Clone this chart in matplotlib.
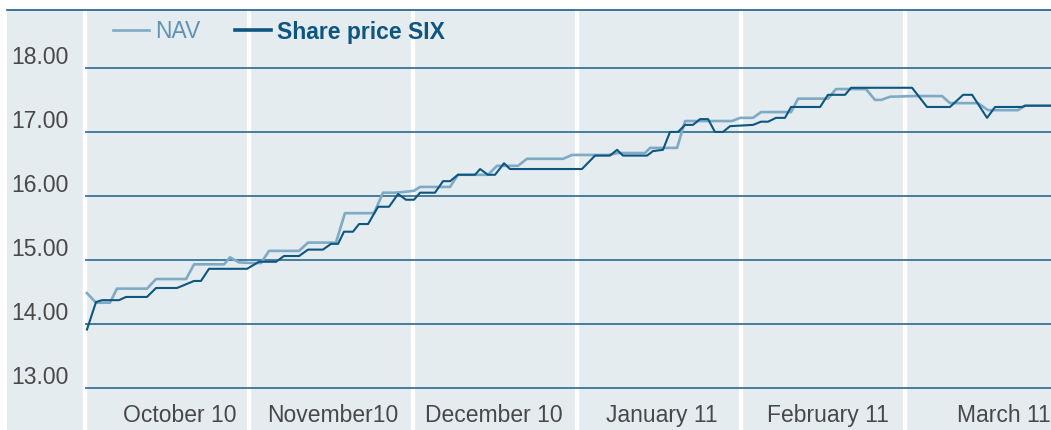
import matplotlib.pyplot as plt
import matplotlib.transforms as mtransforms
from matplotlib.patches import Rectangle
from matplotlib.lines import Line2D

plt.rcParams['font.family'] = ['Liberation Sans', 'DejaVu Sans']

# time in months since 1 Oct 2010 (each month band has equal width on the chart)
price_t = [0.012, 0.067, 0.104, 0.207, 0.250, 0.378, 0.433, 0.561, 0.665, 0.707,
           0.756, 0.988, 1.061, 1.165, 1.213, 1.305, 1.360, 1.451, 1.500, 1.543,
           1.579, 1.634, 1.671, 1.726, 1.787, 1.854, 1.909, 1.957, 2.006, 2.043,
           2.134, 2.183, 2.226, 2.274, 2.378, 2.409, 2.457, 2.500, 2.555, 2.591,
           3.030, 3.110, 3.201, 3.244, 3.280, 3.427, 3.463, 3.524, 3.567, 3.616,
           3.659, 3.707, 3.750, 3.799, 3.841, 3.890, 3.933, 4.073, 4.122, 4.165,
           4.213, 4.268, 4.305, 4.482, 4.530, 4.634, 4.671, 5.043, 5.134, 5.274,
           5.354, 5.409, 5.500, 5.549, 5.713, 5.732, 5.890]
price = [13.91, 14.34, 14.37, 14.37, 14.42, 14.42, 14.56, 14.56, 14.67, 14.67,
         14.86, 14.86, 14.97, 14.97, 15.06, 15.06, 15.16, 15.16, 15.25, 15.25,
         15.44, 15.44, 15.56, 15.56, 15.83, 15.83, 16.03, 15.94, 15.94, 16.05,
         16.05, 16.23, 16.23, 16.33, 16.33, 16.42, 16.33, 16.33, 16.51, 16.42,
         16.42, 16.63, 16.63, 16.72, 16.63, 16.63, 16.70, 16.72, 17.00, 17.00,
         17.11, 17.11, 17.20, 17.20, 17.00, 17.00, 17.09, 17.11, 17.16, 17.16,
         17.22, 17.22, 17.39, 17.39, 17.58, 17.58, 17.69, 17.69, 17.39, 17.39,
         17.58, 17.58, 17.22, 17.39, 17.39, 17.41, 17.41]

nav_t = [0.012, 0.067, 0.152, 0.195, 0.378, 0.433, 0.616, 0.665, 0.848, 0.884,
         0.939, 1.012, 1.073, 1.122, 1.305, 1.360, 1.530, 1.585, 1.762, 1.817,
         1.884, 1.939, 2.006, 2.043, 2.226, 2.274, 2.457, 2.512, 2.640, 2.695,
         2.915, 2.970, 3.189, 3.250, 3.415, 3.445, 3.610, 3.659, 3.945, 3.994,
         4.073, 4.122, 4.305, 4.348, 4.530, 4.579, 4.762, 4.817, 4.854, 4.909,
         5.049, 5.226, 5.274, 5.445, 5.506, 5.689, 5.732, 5.890]
nav = [14.48, 14.33, 14.33, 14.55, 14.55, 14.70, 14.70, 14.93, 14.93, 15.04,
       14.96, 14.95, 14.95, 15.14, 15.14, 15.27, 15.27, 15.73, 15.73, 16.05,
       16.05, 16.06, 16.08, 16.14, 16.14, 16.33, 16.33, 16.47, 16.47, 16.58,
       16.58, 16.64, 16.64, 16.67, 16.67, 16.75, 16.75, 17.17, 17.17, 17.22,
       17.22, 17.31, 17.31, 17.52, 17.52, 17.67, 17.67, 17.50, 17.50, 17.55,
       17.56, 17.56, 17.45, 17.45, 17.34, 17.34, 17.41, 17.41]

months = ['October 10', 'November10', 'December 10', 'January 11', 'February 11', 'March 11']
y_ticks = [13, 14, 15, 16, 17, 18]

BG = '#e5ecf0'
GRID = '#1a5f85'
DARK = '#0d5680'
LIGHT = '#7eaac6'
TXT = '#484848'

W, H = 1051, 430
fig = plt.figure(figsize=(W / 100, H / 100), dpi=100)
fig.patch.set_facecolor('white')
fig.add_artist(Rectangle((7 / W, 0), 1 - 7 / W, 420 / H, transform=fig.transFigure,
                         facecolor=BG, edgecolor='none', zorder=0))
fig.add_artist(Line2D([7 / W, 1], [420 / H, 420 / H], transform=fig.transFigure,
                      color=GRID, lw=1.2, zorder=5))

ax = fig.add_axes([85 / W, 0, 966 / W, 420 / H])
ax.set_facecolor(BG)
ax.set_xlim(0, 5.89)
ax.set_ylim(12.34, 18.906)
for s in ax.spines.values():
    s.set_visible(False)

# white month separators
for m in range(len(months)):
    ax.axvline(m, color='white', lw=3, zorder=1, clip_on=False)
for v in y_ticks:
    ax.axhline(v, color=GRID, lw=1.1, zorder=2)

ax.plot(nav_t, nav, color=LIGHT, lw=1.9, zorder=3, label='NAV')
ax.plot(price_t, price, color=DARK, lw=1.5, zorder=4, label='Share price SIX')

# y tick labels sit above their gridlines
ax.set_yticks(y_ticks)
ax.set_yticklabels([f'{v:.2f}' for v in y_ticks], fontsize=16.5, color=TXT)
ax.tick_params(axis='y', length=0, pad=12)
up = mtransforms.ScaledTranslation(0, 13 / 100, fig.dpi_scale_trans)
for lbl in ax.get_yticklabels():
    lbl.set_transform(lbl.get_transform() + up)

# month labels inside the plot at the bottom
ax.set_xticks([0.58, 1.51, 2.49, 3.52, 4.53, 5.605])
ax.set_xticklabels(months, fontsize=16.5, color=TXT)
ax.tick_params(axis='x', length=0, pad=-19)

leg = ax.legend(loc='center left', bbox_to_anchor=(0.029, 1 - 22 / 420), ncol=2,
                frameon=False, fontsize=16.5, borderpad=0, borderaxespad=0,
                handlelength=1.55, handletextpad=0.3, columnspacing=1.5)
texts = leg.get_texts()
texts[0].set_color('#5f93b5')
texts[1].set_color(DARK)
texts[1].set_fontweight('bold')
leg.get_lines()[1].set_linewidth(2.6)

plt.savefig('out.png', dpi=100, facecolor='white')
